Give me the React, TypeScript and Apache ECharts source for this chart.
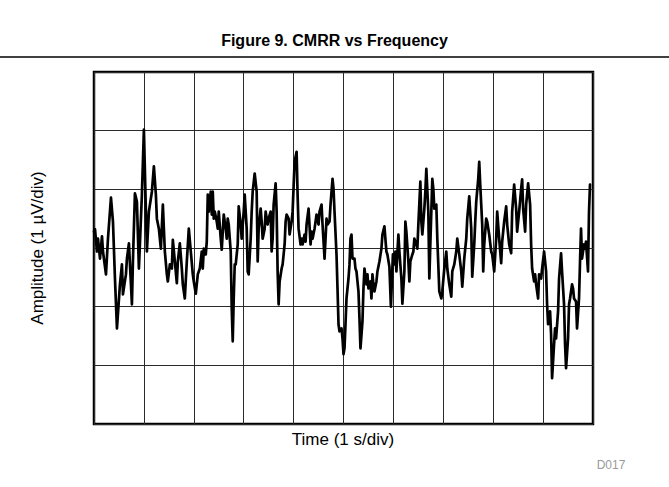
import React, { useEffect, useRef } from "react";
import * as echarts from "echarts";

// Time in seconds (1 s/div), amplitude in µV (1 µV/div)
const timeS: number[] = [
  0.00, 0.02, 0.06, 0.08, 0.12, 0.16, 0.18, 0.24, 0.28, 0.34, 0.38, 0.42, 0.46, 0.52, 0.56, 0.58, 0.64, 0.66, 0.70, 0.76, 0.78, 0.82, 0.86, 0.90, 0.96, 1.00,
  1.04, 1.06, 1.10, 1.16, 1.20, 1.24, 1.26, 1.30, 1.34, 1.38, 1.40, 1.42, 1.46, 1.48, 1.52, 1.56, 1.58, 1.62, 1.66, 1.68, 1.72, 1.76, 1.78, 1.82, 1.86, 1.90, 1.94, 1.98,
  2.00, 2.04, 2.08, 2.12, 2.16, 2.18, 2.20, 2.24, 2.26, 2.28, 2.30, 2.34, 2.36, 2.38, 2.40, 2.42, 2.46, 2.48, 2.50, 2.54, 2.56, 2.60, 2.64, 2.66, 2.68, 2.70, 2.74, 2.76, 2.78, 2.80, 2.82, 2.84, 2.88, 2.90, 2.94, 2.96, 3.00, 3.02,
  3.06, 3.08, 3.10, 3.14, 3.16, 3.18, 3.22, 3.26, 3.28, 3.30, 3.34, 3.36, 3.38, 3.42, 3.44, 3.48, 3.50, 3.54, 3.56, 3.58, 3.60, 3.64, 3.66, 3.68, 3.70, 3.72, 3.76, 3.78, 3.82, 3.84, 3.86, 3.90, 3.92, 3.96, 3.98, 4.02,
  4.06, 4.08, 4.10, 4.14, 4.16, 4.18, 4.22, 4.24, 4.26, 4.30, 4.34, 4.36, 4.38, 4.42, 4.44, 4.46, 4.50, 4.52, 4.56, 4.58, 4.62, 4.64, 4.66, 4.68, 4.72, 4.74, 4.78, 4.80, 4.82, 4.86, 4.88, 4.90, 4.92, 4.96, 4.98, 5.00,
  5.02, 5.04, 5.06, 5.10, 5.12, 5.14, 5.16, 5.18, 5.22, 5.24, 5.26, 5.30, 5.32, 5.34, 5.38, 5.40, 5.42, 5.46, 5.48, 5.50, 5.54, 5.56, 5.58, 5.60, 5.62, 5.66, 5.68, 5.72, 5.76, 5.78, 5.82, 5.86, 5.88, 5.92, 5.95,
  5.99, 6.02, 6.04, 6.06, 6.10, 6.12, 6.16, 6.18, 6.22, 6.24, 6.26, 6.30, 6.32, 6.34, 6.38, 6.40, 6.42, 6.46, 6.48, 6.50, 6.54, 6.56, 6.58, 6.62, 6.64, 6.66, 6.70, 6.72, 6.74, 6.78, 6.80, 6.82, 6.86, 6.88, 6.92, 6.96,
  6.98, 7.02, 7.06, 7.08, 7.12, 7.16, 7.18, 7.22, 7.26, 7.28, 7.32, 7.36, 7.38, 7.42, 7.46, 7.48, 7.52, 7.56, 7.58, 7.62, 7.64, 7.66, 7.70, 7.72, 7.74, 7.78, 7.80, 7.82, 7.86, 7.88, 7.92,
  7.96, 7.98, 8.02, 8.06, 8.08, 8.12, 8.16, 8.18, 8.22, 8.26, 8.28, 8.32, 8.36, 8.38, 8.42, 8.46, 8.48, 8.52, 8.56, 8.58, 8.60, 8.64, 8.66, 8.70, 8.74, 8.76, 8.78, 8.82, 8.84, 8.86, 8.90, 8.92,
  8.96, 8.98, 9.02, 9.06, 9.08, 9.10, 9.14, 9.16, 9.18, 9.22, 9.24, 9.26, 9.30, 9.32, 9.36, 9.38, 9.42, 9.44, 9.46, 9.50, 9.52, 9.54, 9.58, 9.60, 9.62, 9.66, 9.68, 9.72, 9.74, 9.76, 9.78, 9.82, 9.84, 9.86, 9.90, 9.92, 9.94,
];

const amplitudeUV: number[] = [
  0.28, 0.32, -0.06, 0.16, -0.18, 0.20, -0.06, -0.45, 0.16, 0.86, 0.45, -0.52, -1.37, -0.62, -0.28, -0.79, -0.45, -0.18, 0.08, -0.96, -0.23, 0.93, 0.79, -0.35, 0.91, 2.02,
  0.62, -0.06, 0.62, 0.96, 1.39, 0.91, 0.50, 0.33, -0.01, 0.74, 0.33, -0.06, -0.45, -0.57, -0.28, -0.35, 0.14, -0.23, -0.60, -0.23, 0.08, -0.35, -0.62, -0.86, -0.23, 0.33, -0.06, -0.45,
  -0.57, -0.78, -0.45, -0.35, -0.06, -0.35, -0.01, -0.11, 0.11, 0.91, 0.62, 0.96, 0.57, 0.96, 0.50, 0.62, 0.45, 0.33, 0.62, 0.16, -0.03, 0.57, 0.33, 0.16, 0.50, 0.40, -0.06, -1.03, -1.59, -0.86, -0.28, -0.28, 0.06, 0.71, 0.40, 0.16, 0.62, 0.91,
  0.33, -0.40, -0.45, 0.16, 0.62, 0.96, 1.27, 0.96, -0.23, 0.33, 0.67, 0.45, 0.16, 0.33, 0.62, 0.40, 0.50, 0.62, -0.06, 0.16, 0.74, 1.10, 0.62, -0.40, -0.96, -0.57, -0.35, -0.28, 0.06, 0.45, 0.57, 0.50, 0.23, 0.45, 0.62, 1.47,
  1.64, 0.91, 0.33, 0.06, 0.16, 0.06, 0.23, 0.11, 0.40, 0.67, 0.06, 0.28, 0.16, 0.33, 0.45, 0.57, 0.40, 0.62, 0.74, 0.40, -0.18, 0.16, 0.50, 0.40, 0.45, 0.74, 1.18, 1.01, 0.62, -0.11, -0.69, -1.30, -1.42, -1.37, -1.54, -1.81,
  -1.71, -1.30, -0.86, -0.52, -0.28, 0.16, 0.23, -0.18, -0.18, -0.35, -0.40, -0.74, -1.20, -1.71, -1.25, -0.69, -0.35, -0.62, -0.45, -0.69, -0.57, -0.86, -0.45, -0.62, -0.74, -0.57, -0.40, -0.23, -0.01, 0.23, 0.37, -0.06, -0.11, -0.32, -1.00,
  -0.11, -0.28, -0.06, -0.40, 0.23, -0.06, -0.52, -0.95, -0.40, 0.45, 0.28, -0.23, -0.57, -0.23, -0.11, -0.06, 0.16, 0.06, -0.01, 0.40, 1.13, 0.45, 0.23, 0.67, 0.96, 1.35, 0.62, -0.52, 0.06, 1.18, 1.01, 0.67, 0.74, 0.16, -0.74, -0.86,
  -0.74, -0.35, -0.06, -0.35, -0.62, -0.83, -0.40, -0.28, -0.06, 0.16, -0.11, -0.40, -0.66, -0.18, 0.16, 0.50, 0.88, 0.33, -0.49, 0.06, 0.45, 0.79, 1.18, 1.47, 1.08, 0.40, -0.40, 0.06, 0.50, 0.45, 0.23,
  -0.06, -0.11, -0.40, 0.16, 0.62, 0.16, -0.26, 0.11, 0.45, 0.71, 0.40, 0.06, -0.09, 0.62, 1.08, 0.67, 0.28, 0.62, 1.01, 1.17, 0.67, 0.28, 0.74, 1.10, 0.74, 0.06, -0.35, -0.57, -0.45, -0.62, -0.86, -0.45,
  -0.52, -0.35, -0.06, -0.40, -0.96, -1.30, -1.08, -1.47, -2.22, -1.64, -1.37, -1.54, -1.08, -0.52, -0.09, -0.40, -0.96, -1.64, -2.05, -1.54, -0.96, -0.86, -0.62, -0.69, -0.86, -0.91, -1.37, -0.86, -0.23, 0.33, -0.18, 0.06, -0.01, 0.11, -0.40, 0.62, 1.08,
];

const titleText = "Figure 9. CMRR vs Frequency";
const xAxisTitle = "Time (1 s/div)";
const yAxisTitle = "Amplitude (1 \u00b5V/div)";
const figureId = "D017";

const FONT = "'Liberation Sans', Arial, Helvetica, sans-serif";

export default function App() {
  const ref = useRef<HTMLDivElement>(null);

  useEffect(() => {
    if (!ref.current) return;
    const chart = echarts.init(ref.current, null, { renderer: "svg" });
    const data = timeS.map((t, i) => [t, amplitudeUV[i]]);
    chart.setOption({
      animation: false,
      backgroundColor: "#ffffff",
      grid: {
        left: 94,
        top: 72,
        width: 499,
        height: 352,
        show: true,
        borderColor: "#000000",
        borderWidth: 2.5,
        backgroundColor: "transparent",
      },
      xAxis: {
        type: "value",
        min: 0,
        max: 10,
        interval: 1,
        axisLine: { show: false },
        axisTick: { show: false },
        axisLabel: { show: false },
        splitLine: { show: true, lineStyle: { color: "#2a2a2a", width: 1 } },
      },
      yAxis: {
        type: "value",
        min: -3,
        max: 3,
        interval: 1,
        axisLine: { show: false },
        axisTick: { show: false },
        axisLabel: { show: false },
        splitLine: { show: true, lineStyle: { color: "#2a2a2a", width: 1 } },
      },
      graphic: [
        {
          type: "text",
          left: "center",
          top: 32,
          style: {
            text: titleText,
            font: `bold 16px ${FONT}`,
            fill: "#000000",
          },
        },
        {
          type: "line",
          shape: { x1: 0, y1: 57, x2: 669, y2: 57 },
          style: { stroke: "#000000", lineWidth: 1.5 },
        },
        {
          type: "text",
          x: 343,
          y: 439,
          style: {
            text: xAxisTitle,
            font: `17px ${FONT}`,
            fill: "#000000",
            align: "center",
            verticalAlign: "middle",
          },
        },
        {
          type: "text",
          x: 37,
          y: 248,
          rotation: Math.PI / 2,
          style: {
            text: yAxisTitle,
            font: `17px ${FONT}`,
            fill: "#000000",
            align: "center",
            verticalAlign: "middle",
          },
        },
        {
          type: "text",
          x: 611,
          y: 465,
          style: {
            text: figureId,
            font: `12px ${FONT}`,
            fill: "#9a9a9a",
            align: "center",
            verticalAlign: "middle",
          },
        },
      ],
      series: [
        {
          type: "line",
          data,
          showSymbol: false,
          symbol: "none",
          clip: true,
          lineStyle: { color: "#000000", width: 2.7, join: "round", cap: "round" },
          z: 5,
        },
      ],
    });
    return () => chart.dispose();
  }, []);

  return (
    <div
      ref={ref}
      style={{ position: "fixed", left: 0, top: 0, width: 669, height: 487, background: "#fff" }}
    />
  );
}
